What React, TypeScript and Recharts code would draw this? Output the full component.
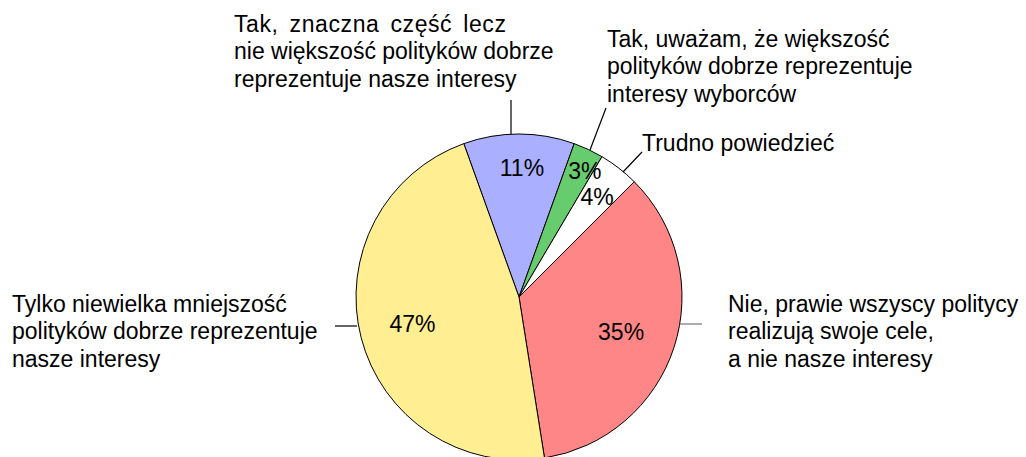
import React from 'react';
import { PieChart, Pie, Cell } from 'recharts';

const categories = [
    'Tak, znaczna część lecz\nnie większość polityków dobrze\nreprezentuje nasze interesy',
    'Tak, uważam, że większość\npolityków dobrze reprezentuje\ninteresy wyborców',
    'Trudno powiedzieć',
    'Nie, prawie wszyscy politycy\nrealizują swoje cele,\na nie nasze interesy',
    'Tylko niewielka mniejszość\npolityków dobrze reprezentuje\nnasze interesy',
];
const shares = [11, 3, 4, 35, 47];
const sliceColors = ['#aab0ff', '#66cc6e', '#ffffff', '#ff8686', '#ffee92'];

const data = categories.map((name, i) => ({ name, value: shares[i] }));

// label layout, offsets relative to the pie centre
const pctLayout = [
    { r: 129, shift: 1.3 },
    { r: 142, shift: 2.4 },
    { r: 127, shift: 0.2 },
    { r: 108, shift: 1 },
    { r: 110, shift: 0 },
];
const leaderLayout = [
    { x1: -8, y1: -163, x2: -8, y2: -197, tx: -285, ty: -265, color: '#000', stretch: true },
    { x1: 71, y1: -147, x2: 87, y2: -189, tx: 88, ty: -250, color: '#000', stretch: false },
    { x1: 104, y1: -125, x2: 123, y2: -145, tx: 123, ty: -146, color: '#000', stretch: false },
    { x1: 161, y1: 27, x2: 183, y2: 27, tx: 209, ty: 15, color: '#777', stretch: false },
    { x1: -162, y1: 29, x2: -184, y2: 29, tx: -507, ty: 15, color: '#000', stretch: false },
];
const LINE_H = 27.3;
const FONT = '"Liberation Sans", Arial, sans-serif';

const renderLabel = (props: any) => {
    const { cx, cy, midAngle, index, value } = props;
    const p = pctLayout[index];
    const l = leaderLayout[index];
    const theta = ((90 - midAngle + p.shift) * Math.PI) / 180;
    const px = cx + p.r * Math.sin(theta);
    const py = cy - p.r * Math.cos(theta);
    const lines = categories[index].split('\n');
    return (
        <g>
            <text x={px} y={py} textAnchor="middle" dominantBaseline="central"
                fontFamily={FONT} fontSize={23} fill="#000">
                {value}%
            </text>
            <line x1={cx + l.x1} y1={cy + l.y1} x2={cx + l.x2} y2={cy + l.y2}
                stroke={l.color} strokeWidth={1.2} />
            <text fontFamily={FONT} fontSize={23} fill="#000">
                {lines.map((t, k) => (
                    <tspan key={k} x={cx + l.tx} y={cy + l.ty + k * LINE_H}
                        style={k === 0 && l.stretch ? { letterSpacing: 0.6, wordSpacing: 4 } : undefined}>
                        {t}
                    </tspan>
                ))}
            </text>
        </g>
    );
};

const App: React.FC = () => {
    return (
        <div style={{ position: 'absolute', left: 0, top: 0, width: 1026, height: 457, background: '#fff' }}>
            <PieChart width={1026} height={457} margin={{ top: 0, right: 0, bottom: 0, left: 0 }}>
                <Pie
                    data={data}
                    dataKey="value"
                    cx={519}
                    cy={297}
                    outerRadius={163}
                    startAngle={109.8}
                    endAngle={-250.2}
                    stroke="#000"
                    strokeWidth={1}
                    label={renderLabel}
                    labelLine={false}
                    isAnimationActive={false}
                >
                    {data.map((_, i) => (
                        <Cell key={i} fill={sliceColors[i]} />
                    ))}
                </Pie>
            </PieChart>
        </div>
    );
};

export default App;
